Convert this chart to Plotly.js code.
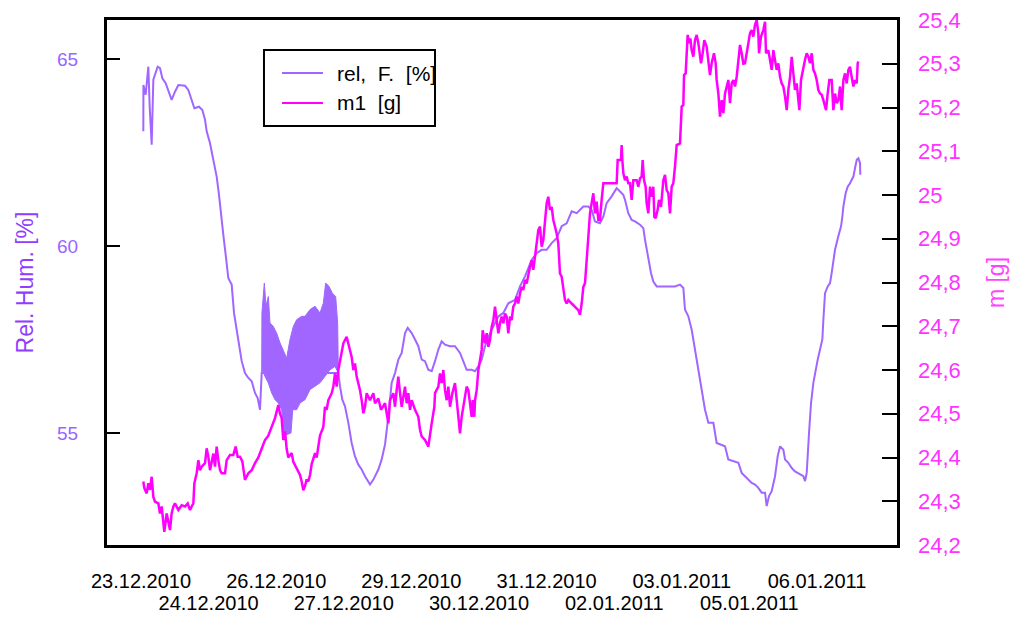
<!DOCTYPE html>
<html>
<head>
<meta charset="utf-8">
<script src="https://cdn.plot.ly/plotly-3.0.1.min.js"></script>
<style>
  html, body { margin: 0; padding: 0; background: #ffffff; }
  #chart { width: 1014px; height: 617px; }
</style>
</head>
<body>
<div id="chart"></div>
<script>
// Time axis: days after the first label (23.12.2010); labels are spaced evenly.
const tickDaysTop = [0, 2.784, 5.567, 8.351, 11.134, 13.918];
const tickTextTop = ["23.12.2010", "26.12.2010", "29.12.2010", "31.12.2010", "03.01.2011", "06.01.2011"];
const tickDaysBottom = [1.392, 4.175, 6.959, 9.743, 12.526];
const tickTextBottom = ["24.12.2010", "27.12.2010", "30.12.2010", "02.01.2011", "05.01.2011"];

// Relative humidity [%]
const rhDay = [0.048, 0.05, 0.096, 0.117, 0.151, 0.179, 0.22, 0.254, 0.302, 0.343, 0.391, 0.44, 0.508, 0.563, 0.631, 0.70, 0.769, 0.906, 0.974, 1.043,
  1.098, 1.194, 1.263, 1.318, 1.352, 1.421, 1.49, 1.558, 1.606, 1.647, 1.695, 1.743, 1.798, 1.867, 1.915, 1.97, 2.018, 2.073, 2.141, 2.21,
  2.279, 2.347, 2.402, 2.45, 2.485, 4.063, 4.097, 4.145, 4.2, 4.269, 4.337, 4.406, 4.475, 4.543, 4.612, 4.715, 4.784, 4.887, 4.955, 5.024,
  5.093, 5.127, 5.161, 5.23, 5.298, 5.367, 5.436, 5.491, 5.573, 5.642, 5.71, 5.779, 5.847, 5.916, 5.985, 6.053, 6.122, 6.19, 6.259, 6.362,
  6.465, 6.568, 6.637, 6.705, 6.808, 6.877, 6.946, 7.014, 7.083, 7.186, 7.289, 7.357, 7.46, 7.563, 7.70, 7.803, 7.906, 8.043, 8.146, 8.249,
  8.352, 8.455, 8.558, 8.661, 8.764, 8.867, 8.97, 9.038, 9.107, 9.21, 9.278, 9.347, 9.45, 9.519, 9.587, 9.69, 9.793, 9.862, 9.93, 9.965,
  10.033, 10.102, 10.171, 10.274, 10.342, 10.377, 10.411, 10.445, 10.50, 10.548, 10.617, 10.72, 10.857, 10.994, 11.097, 11.166, 11.20, 11.269, 11.338, 11.406,
  11.475, 11.543, 11.612, 11.681, 11.784, 11.852, 11.921, 12.024, 12.092, 12.195, 12.299, 12.367, 12.436, 12.505, 12.573, 12.642, 12.71, 12.779, 12.848, 12.882,
  12.93, 12.985, 13.054, 13.109, 13.157, 13.225, 13.26, 13.328, 13.397, 13.465, 13.568, 13.637, 13.671, 13.706, 13.754, 13.795, 13.843, 13.877, 13.932, 13.98,
  14.028, 14.049, 14.083, 14.138, 14.186, 14.22, 14.289, 14.357, 14.413, 14.44, 14.461, 14.509, 14.55, 14.598, 14.632, 14.667, 14.701, 14.736, 14.77, 14.804, 14.81];
const rhValue = [63.07, 64.31, 64.05, 64.36, 64.80, 63.73, 62.71, 64.45, 64.67, 64.80, 64.76, 64.49, 64.36, 64.18, 63.91, 64.13, 64.31, 64.29, 64.18, 63.91,
  63.69, 63.73, 63.64, 63.38, 63.07, 62.75, 62.31, 61.86, 61.37, 60.79, 60.30, 59.77, 59.14, 58.97, 58.21, 57.76, 57.41, 56.92, 56.60, 56.47,
  56.38, 56.07, 55.93, 55.62, 56.60, 56.60, 56.25, 55.89, 55.71, 55.27, 54.73, 54.37, 54.15, 54.02, 53.84, 53.62, 53.75, 54.02, 54.29, 54.69,
  55.45, 55.89, 56.34, 56.60, 56.96, 57.14, 57.67, 57.81, 57.67, 57.50, 57.32, 56.96, 56.92, 56.69, 56.65, 56.92, 57.23, 57.45, 57.36, 57.32,
  57.32, 57.14, 56.92, 56.69, 56.69, 56.65, 56.78, 56.96, 57.32, 57.67, 57.94, 58.12, 58.21, 58.47, 58.56, 58.92, 59.19, 59.63, 59.81, 59.90,
  59.90, 60.08, 60.21, 60.53, 60.61, 60.93, 60.88, 60.97, 61.06, 61.06, 60.97, 60.66, 60.61, 60.79, 61.15, 61.33, 61.55, 61.46, 61.37, 61.24,
  60.88, 60.70, 60.66, 60.57, 60.48, 60.17, 59.90, 59.63, 59.28, 59.05, 58.92, 58.92, 58.92, 58.92, 58.97, 58.88, 58.30, 58.12, 57.76, 57.23,
  56.60, 56.07, 55.62, 55.27, 55.27, 54.73, 54.69, 54.64, 54.29, 54.24, 54.20, 53.93, 53.84, 53.75, 53.66, 53.62, 53.53, 53.40, 53.40, 53.04,
  53.31, 53.44, 53.84, 54.38, 54.64, 54.55, 54.29, 54.20, 54.06, 53.97, 53.88, 53.84, 53.71, 53.93, 55.00, 55.80, 56.34, 56.60, 56.96, 57.23,
  57.50, 58.03, 58.74, 58.92, 59.01, 59.28, 59.90, 60.26, 60.53, 60.79, 61.06, 61.42, 61.59, 61.68, 61.77, 61.86, 62.09, 62.31, 62.35, 62.22, 61.91];

// Range of the fast humidity oscillation on 26./27.12.
const bandHighDay = [2.485, 2.49, 2.539, 2.574, 2.621, 2.656, 2.724, 2.793, 2.862, 2.93, 2.999, 3.068, 3.136, 3.205, 3.308, 3.377, 3.48, 3.583, 3.685, 3.754, 3.802, 3.871, 3.939, 4.008, 4.049, 4.063];
const bandHigh = [56.60, 58.21, 59.01, 58.39, 58.65, 57.94, 57.85, 57.67, 57.41, 57.18, 57.00, 57.50, 57.85, 58.03, 58.12, 58.12, 58.30, 58.39, 58.21, 58.47, 59.01, 58.92, 58.74, 58.65, 57.94, 56.60];
const bandLowDay = [2.485, 2.498, 2.553, 2.621, 2.69, 2.759, 2.827, 2.896, 2.93, 2.999, 3.088, 3.123, 3.205, 3.274, 3.377, 3.48, 3.583, 3.685, 3.788, 3.891, 3.994, 4.063];
const bandLow = [56.60, 56.69, 56.51, 56.34, 56.07, 55.89, 55.80, 55.62, 55.09, 54.95, 55.00, 55.62, 55.62, 55.80, 55.89, 56.16, 56.25, 56.34, 56.51, 56.69, 56.78, 56.60];

// Sample mass m1 [g]
const massDay = [0.048, 0.069, 0.117, 0.151, 0.185, 0.22, 0.254, 0.288, 0.357, 0.391, 0.426, 0.46, 0.48, 0.529, 0.563, 0.597, 0.631, 0.666, 0.70, 0.769,
  0.837, 0.906, 0.961, 1.009, 1.043, 1.078, 1.098, 1.146, 1.181, 1.215, 1.249, 1.318, 1.352, 1.386, 1.421, 1.455, 1.49, 1.524, 1.558, 1.592,
  1.627, 1.661, 1.73, 1.764, 1.833, 1.901, 1.949, 1.99, 2.038, 2.086, 2.141, 2.21, 2.279, 2.347, 2.416, 2.484, 2.553, 2.621, 2.69, 2.759,
  2.827, 2.862, 2.896, 2.93, 2.965, 2.999, 3.033, 3.102, 3.136, 3.205, 3.274, 3.308, 3.342, 3.377, 3.411, 3.445, 3.48, 3.514, 3.583, 3.617,
  3.651, 3.685, 3.754, 3.788, 3.823, 3.857, 3.926, 3.96, 3.994, 4.029, 4.063, 4.097, 4.131, 4.166, 4.234, 4.283, 4.337, 4.372, 4.406, 4.44,
  4.509, 4.543, 4.578, 4.612, 4.646, 4.715, 4.784, 4.818, 4.887, 4.941, 4.99, 5.024, 5.093, 5.127, 5.195, 5.23, 5.264, 5.298, 5.333, 5.367,
  5.436, 5.47, 5.504, 5.539, 5.573, 5.642, 5.71, 5.745, 5.779, 5.847, 5.916, 5.95, 5.985, 6.04, 6.053, 6.122, 6.156, 6.19, 6.225, 6.259,
  6.294, 6.328, 6.362, 6.41, 6.465, 6.50, 6.534, 6.568, 6.602, 6.637, 6.671, 6.705, 6.74, 6.774, 6.808, 6.829, 6.863, 6.877, 6.911, 6.946,
  6.98, 7.014, 7.035, 7.083, 7.117, 7.152, 7.186, 7.22, 7.255, 7.289, 7.323, 7.357, 7.392, 7.426, 7.46, 7.494, 7.528, 7.563, 7.597, 7.631,
  7.665, 7.70, 7.734, 7.768, 7.803, 7.837, 7.871, 7.906, 7.94, 7.974, 8.009, 8.043, 8.077, 8.112, 8.146, 8.18, 8.215, 8.249, 8.283, 8.317,
  8.352, 8.386, 8.42, 8.455, 8.489, 8.523, 8.558, 8.592, 8.626, 8.661, 8.695, 8.729, 8.764, 8.798, 8.867, 8.935, 9.004, 9.038, 9.073, 9.107,
  9.141, 9.176, 9.21, 9.244, 9.278, 9.313, 9.347, 9.381, 9.416, 9.45, 9.484, 9.519, 9.793, 9.814, 9.882, 9.896, 9.91, 9.93, 9.965, 9.999,
  10.033, 10.068, 10.102, 10.136, 10.205, 10.239, 10.274, 10.308, 10.329, 10.356, 10.39, 10.411, 10.445, 10.48, 10.514, 10.548, 10.569, 10.596, 10.637, 10.665,
  10.706, 10.754, 10.789, 10.823, 10.857, 10.892, 10.926, 10.96, 10.994, 11.029, 11.097, 11.132, 11.166, 11.18, 11.214, 11.235, 11.255, 11.283, 11.31, 11.338,
  11.372, 11.406, 11.441, 11.475, 11.509, 11.53, 11.564, 11.598, 11.646, 11.681, 11.715, 11.749, 11.797, 11.832, 11.852, 11.887, 11.921, 11.955, 11.99, 12.024,
  12.058, 12.093, 12.127, 12.161, 12.196, 12.23, 12.264, 12.299, 12.333, 12.367, 12.401, 12.436, 12.47, 12.505, 12.539, 12.573, 12.607, 12.642, 12.676, 12.71,
  12.724, 12.765, 12.813, 12.848, 12.868, 12.916, 12.951, 12.985, 13.019, 13.054, 13.088, 13.122, 13.157, 13.191, 13.225, 13.26, 13.294, 13.328, 13.363, 13.397,
  13.431, 13.465, 13.5, 13.534, 13.555, 13.589, 13.637, 13.671, 13.706, 13.74, 13.774, 13.809, 13.843, 13.877, 13.912, 13.946, 13.98, 14.015, 14.049, 14.083,
  14.104, 14.138, 14.172, 14.22, 14.255, 14.289, 14.323, 14.358, 14.392, 14.426, 14.461, 14.495, 14.529, 14.564, 14.598, 14.632, 14.667, 14.701, 14.735, 14.756, 14.77];
const massValue = [24.345, 24.33, 24.318, 24.341, 24.326, 24.356, 24.31, 24.299, 24.295, 24.272, 24.288, 24.257, 24.23, 24.272, 24.25, 24.234, 24.272, 24.288, 24.295, 24.28,
  24.291, 24.288, 24.295, 24.28, 24.288, 24.295, 24.341, 24.364, 24.394, 24.371, 24.379, 24.387, 24.421, 24.402, 24.371, 24.394, 24.409, 24.379, 24.425, 24.394,
  24.371, 24.364, 24.364, 24.394, 24.406, 24.406, 24.425, 24.402, 24.402, 24.391, 24.349, 24.364, 24.371, 24.387, 24.40, 24.42, 24.44, 24.45, 24.47, 24.49,
  24.52, 24.50, 24.49, 24.44, 24.46, 24.42, 24.40, 24.41, 24.39, 24.375, 24.36, 24.345, 24.325, 24.335, 24.35, 24.345, 24.36, 24.385, 24.41, 24.40,
  24.43, 24.45, 24.47, 24.516, 24.509, 24.531, 24.547, 24.562, 24.592, 24.562, 24.60, 24.623, 24.638, 24.661, 24.676, 24.653, 24.63, 24.60, 24.615, 24.585,
  24.554, 24.531, 24.501, 24.516, 24.547, 24.531, 24.547, 24.524, 24.535, 24.509, 24.52, 24.524, 24.478, 24.531, 24.547, 24.516, 24.554, 24.585, 24.547, 24.516,
  24.562, 24.524, 24.547, 24.509, 24.531, 24.509, 24.493, 24.463, 24.448, 24.44, 24.425, 24.455, 24.478, 24.516, 24.547, 24.562, 24.592, 24.57, 24.60, 24.554,
  24.531, 24.562, 24.516, 24.547, 24.57, 24.531, 24.486, 24.455, 24.493, 24.516, 24.531, 24.562, 24.554, 24.524, 24.493, 24.531, 24.493, 24.531, 24.554, 24.60,
  24.623, 24.646, 24.691, 24.661, 24.684, 24.653, 24.669, 24.699, 24.714, 24.745, 24.714, 24.684, 24.707, 24.722, 24.707, 24.729, 24.722, 24.684, 24.722, 24.714,
  24.745, 24.752, 24.768, 24.752, 24.775, 24.79, 24.783, 24.806, 24.798, 24.821, 24.836, 24.851, 24.829, 24.859, 24.897, 24.92, 24.928, 24.882, 24.897, 24.95,
  24.981, 24.996, 24.966, 24.973, 24.943, 24.928, 24.912, 24.889, 24.821, 24.813, 24.783, 24.76, 24.752, 24.76, 24.752, 24.745, 24.737, 24.726, 24.752, 24.79,
  24.798, 24.851, 24.897, 24.958, 24.981, 25.004, 24.958, 24.985, 24.943, 24.943, 24.989, 25.027, 25.027, 25.08, 25.08, 25.114, 25.08, 25.05, 25.034, 25.042,
  25.027, 25.027, 24.989, 25.034, 25.034, 25.019, 25.038, 25.042, 25.08, 25.034, 25.019, 24.981, 24.958, 25.019, 24.996, 25.019, 24.95, 24.947, 24.966, 24.989,
  24.973, 25.034, 25.046, 25.011, 25.004, 24.958, 25.019, 25.027, 25.065, 25.114, 25.118, 25.202, 25.206, 25.274, 25.278, 25.339, 25.366, 25.347, 25.358, 25.331,
  25.316, 25.354, 25.366, 25.347, 25.324, 25.301, 25.324, 25.354, 25.339, 25.301, 25.274, 25.301, 25.324, 25.301, 25.263, 25.232, 25.179, 25.217, 25.187, 25.232,
  25.248, 25.263, 25.21, 25.255, 25.263, 25.248, 25.27, 25.316, 25.343, 25.324, 25.30, 25.301, 25.324, 25.339, 25.37, 25.377, 25.362, 25.389, 25.40, 25.37,
  25.324, 25.362, 25.377, 25.396, 25.324, 25.331, 25.309, 25.286, 25.331, 25.309, 25.286, 25.301, 25.27, 25.255, 25.248, 25.225, 25.194, 25.24, 25.27, 25.316,
  25.27, 25.24, 25.255, 25.225, 25.194, 25.263, 25.293, 25.309, 25.324, 25.316, 25.301, 25.324, 25.286, 25.278, 25.263, 25.24, 25.232, 25.229, 25.217, 25.202,
  25.194, 25.232, 25.263, 25.263, 25.194, 25.232, 25.21, 25.217, 25.248, 25.194, 25.263, 25.278, 25.255, 25.286, 25.293, 25.27, 25.248, 25.263, 25.255, 25.301, 25.305];

// Right axis tick labels use a decimal comma
const massTickVals = [24.2, 24.3, 24.4, 24.5, 24.6, 24.7, 24.8, 24.9, 25.0, 25.1, 25.2, 25.3, 25.4];
const massTickText = ["24,2", "24,3", "24,4", "24,5", "24,6", "24,7", "24,8", "24,9", "25", "25,1", "25,2", "25,3", "25,4"];
const rhTickVals = [55, 60, 65];

const RH_COLOR = "#a066ff";
const MASS_COLOR = "#ff00ff";
const FONT = "Liberation Sans, Arial, Helvetica, sans-serif";
const xRange = [-0.70, 15.565];

const traces = [
  {
    x: bandHighDay.concat(bandLowDay.slice().reverse()),
    y: bandHigh.concat(bandLow.slice().reverse()),
    xaxis: "x", yaxis: "y",
    mode: "lines", fill: "toself", fillcolor: RH_COLOR,
    line: { color: RH_COLOR, width: 1 },
    hoverinfo: "skip", showlegend: false
  },
  {
    x: rhDay, y: rhValue, xaxis: "x", yaxis: "y",
    mode: "lines", name: "rel, F. [%]",
    line: { color: RH_COLOR, width: 2 },
    showlegend: false
  },
  {
    x: massDay, y: massValue, xaxis: "x2", yaxis: "y2",
    mode: "lines", name: "m1 [g]",
    line: { color: MASS_COLOR, width: 2.5 },
    showlegend: false
  }
];

const NB = "\u00a0";
const layout = {
  width: 1014, height: 617,
  margin: { l: 107, r: 117, t: 20, b: 72, pad: 0 },
  paper_bgcolor: "#ffffff", plot_bgcolor: "#ffffff",
  font: { family: FONT, color: "#000000" },
  showlegend: false,
  xaxis: {
    range: xRange, showgrid: false, zeroline: false,
    showline: true, mirror: true, linecolor: "#000000", linewidth: 3,
    ticks: "", tickvals: tickDaysTop, ticktext: tickTextTop,
    tickfont: { size: 20, color: "#000000", family: FONT },
    ticklabelstandoff: 16
  },
  xaxis2: {
    range: xRange, overlaying: "x", anchor: "y", side: "bottom",
    showgrid: false, zeroline: false, showline: false,
    ticks: "", tickvals: tickDaysBottom, ticktext: tickTextBottom,
    tickfont: { size: 20, color: "#000000", family: FONT },
    ticklabelstandoff: 44
  },
  yaxis: {
    range: [52.0, 66.05], showgrid: false, zeroline: false,
    showline: true, mirror: true, linecolor: "#000000", linewidth: 3,
    ticks: "inside", ticklen: 13, tickwidth: 2, tickcolor: "#000000",
    tickvals: rhTickVals,
    tickfont: { size: 19, color: "#9966ff", family: FONT },
    ticklabelstandoff: 22,
    title: { text: "Rel. Hum. [%]", font: { size: 23, color: "#8f3dff", family: FONT }, standoff: 18 }
  },
  yaxis2: {
    range: [24.2, 25.4], overlaying: "y", side: "right", anchor: "x2",
    showgrid: false, zeroline: false, showline: false,
    ticks: "inside", ticklen: 15, tickwidth: 2, tickcolor: "#000000",
    tickvals: massTickVals, ticktext: massTickText,
    tickfont: { size: 22, color: "#ff33ff", family: FONT },
    ticklabelstandoff: 20,
    title: { text: "m [g]", font: { size: 23, color: "#ff44ff", family: FONT }, standoff: 28 }
  },
  shapes: [
    { type: "rect", xref: "paper", yref: "paper", x0: 0.1987, x1: 0.4152, y0: 0.798, y1: 0.9429,
      line: { color: "#000000", width: 2 }, fillcolor: "rgba(0,0,0,0)" },
    { type: "line", xref: "paper", yref: "paper", x0: 0.2215, x1: 0.2734, y0: 0.899, y1: 0.899,
      line: { color: RH_COLOR, width: 2 } },
    { type: "line", xref: "paper", yref: "paper", x0: 0.2215, x1: 0.2734, y0: 0.842, y1: 0.842,
      line: { color: MASS_COLOR, width: 2 } }
  ],
  annotations: [
    { xref: "paper", yref: "paper", x: 0.2886, y: 0.899, xanchor: "left", yanchor: "middle",
      text: "rel," + NB + NB + "F." + NB + NB + "[%]", showarrow: false,
      font: { size: 21, color: "#000000", family: FONT } },
    { xref: "paper", yref: "paper", x: 0.2886, y: 0.842, xanchor: "left", yanchor: "middle",
      text: "m1" + NB + NB + "[g]", showarrow: false,
      font: { size: 21, color: "#000000", family: FONT } }
  ]
};

Plotly.newPlot("chart", traces, layout, { staticPlot: true, displayModeBar: false });
</script>
</body>
</html>
